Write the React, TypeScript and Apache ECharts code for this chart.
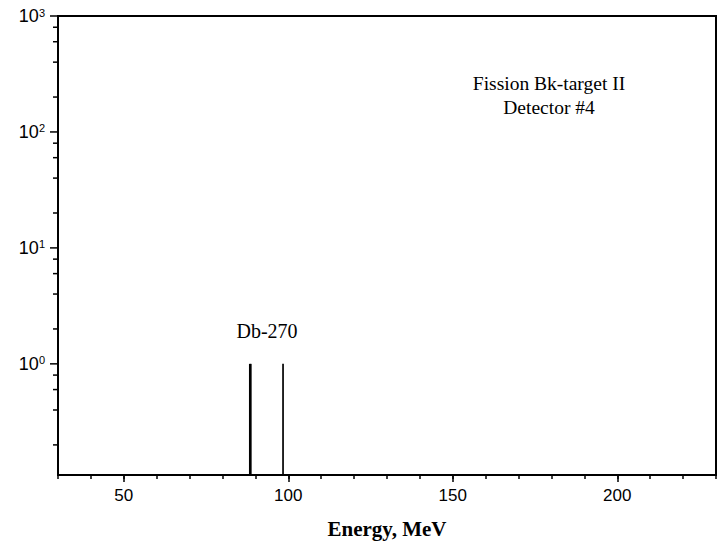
import React, { useEffect, useRef } from "react";
import * as echarts from "echarts";

const X_MIN = 30;
const X_MAX = 230;
const Y_MIN = 0.11;
const Y_MAX = 1000;
const xMajorTicks = [50, 100, 150, 200];
const xMinorStep = 10;
const yMajorTicks = [1, 10, 100, 1000];
const yMinorTicks = [0.2, 0.4, 0.6, 0.8, 2, 4, 6, 8, 20, 40, 60, 80, 200, 400, 600, 800];
const eventEnergies = [88.3, 88.6, 98.4];
const eventCounts = [1, 1, 1];
const peakLabel = "Db-270";
const titleLines = ["Fission Bk-target II", "Detector #4"];
const xAxisTitle = "Energy, MeV";

const SANS = "'Liberation Sans', Arial, sans-serif";
const SERIF = "'Liberation Serif', 'Times New Roman', serif";

export default function App() {
  const ref = useRef<HTMLDivElement>(null);
  useEffect(() => {
    if (!ref.current) return;
    const chart = echarts.init(ref.current, undefined, { renderer: "svg" });
    const tickSeries = (values: number[], len: number) => ({
      type: "custom",
      xAxisIndex: 0,
      yAxisIndex: 0,
      clip: false,
      silent: true,
      data: values.map((v) => [X_MIN, v]),
      renderItem: (params: any, api: any) => {
        const p = api.coord([X_MIN, api.value(1)]);
        const cs = params.coordSys;
        return {
          type: "line",
          shape: { x1: cs.x - len, y1: p[1], x2: cs.x, y2: p[1] },
          style: { stroke: "#000", lineWidth: 1.5 },
        };
      },
    });
    chart.setOption({
      animation: false,
      grid: {
        left: 58,
        right: 2,
        top: 16,
        bottom: 66,
        show: true,
        borderColor: "#000",
        borderWidth: 2,
        backgroundColor: "transparent",
      },
      xAxis: [
        {
          type: "value",
          min: X_MIN,
          max: X_MAX,
          position: "bottom",
          splitLine: { show: false },
          axisLine: { show: true, lineStyle: { color: "#000", width: 2 } },
          axisTick: {
            show: true,
            length: 7,
            customValues: xMajorTicks,
            lineStyle: { color: "#000", width: 1.5 },
          },
          axisLabel: {
            customValues: xMajorTicks,
            fontFamily: SANS,
            fontSize: 17,
            color: "#000",
            margin: 12,
          },
          name: xAxisTitle,
          nameLocation: "middle",
          nameGap: 43,
          nameTextStyle: {
            fontFamily: SERIF,
            fontWeight: "bold",
            fontSize: 21,
            color: "#000",
          },
        },
        {
          type: "value",
          min: X_MIN,
          max: X_MAX,
          interval: xMinorStep,
          position: "bottom",
          offset: 0,
          splitLine: { show: false },
          axisLine: { show: false },
          axisLabel: { show: false },
          axisTick: { show: true, length: 4, lineStyle: { color: "#000", width: 1.5 } },
        },
      ],
      yAxis: {
        type: "log",
        logBase: 10,
        min: Y_MIN,
        max: Y_MAX,
        splitLine: { show: false },
        axisLine: { show: true, lineStyle: { color: "#000", width: 2 } },
        axisTick: { show: false },
        axisLabel: {
          margin: 13,
          formatter: (v: number) => {
            if (v < 0.5) return "";
            const e = Math.round(Math.log10(v));
            return `{b|10}{s|${e}}`;
          },
          rich: {
            b: { fontFamily: SANS, fontSize: 18, color: "#000", lineHeight: 18 },
            s: { fontFamily: SANS, fontSize: 11, color: "#000", verticalAlign: "top", lineHeight: 11 },
          },
        },
      },
      series: [
        {
          type: "custom",
          xAxisIndex: 0,
          yAxisIndex: 0,
          clip: false,
          silent: true,
          data: eventEnergies.map((e, i) => [e, eventCounts[i]]),
          renderItem: (params: any, api: any) => {
            const top = api.coord([api.value(0), api.value(1)]);
            const cs = params.coordSys;
            return {
              type: "line",
              shape: { x1: top[0], y1: top[1], x2: top[0], y2: cs.y + cs.height },
              style: { stroke: "#000", lineWidth: 1.7 },
            };
          },
        },
        tickSeries(yMajorTicks, 8),
        tickSeries(yMinorTicks, 5),
      ],
      graphic: [
        {
          type: "text",
          x: 267,
          y: 331,
          style: {
            text: peakLabel,
            font: `20px ${SERIF}`,
            fill: "#000",
            textAlign: "center",
            textVerticalAlign: "middle",
          },
        },
        {
          type: "text",
          x: 549,
          y: 83,
          style: {
            text: titleLines[0],
            font: `19.5px ${SERIF}`,
            fill: "#000",
            textAlign: "center",
            textVerticalAlign: "middle",
          },
        },
        {
          type: "text",
          x: 549,
          y: 107,
          style: {
            text: titleLines[1],
            font: `19.5px ${SERIF}`,
            fill: "#000",
            textAlign: "center",
            textVerticalAlign: "middle",
          },
        },
      ],
    });
    return () => chart.dispose();
  }, []);
  return (
    <div
      ref={ref}
      style={{ position: "absolute", left: 0, top: 0, width: 718, height: 544 }}
    />
  );
}
